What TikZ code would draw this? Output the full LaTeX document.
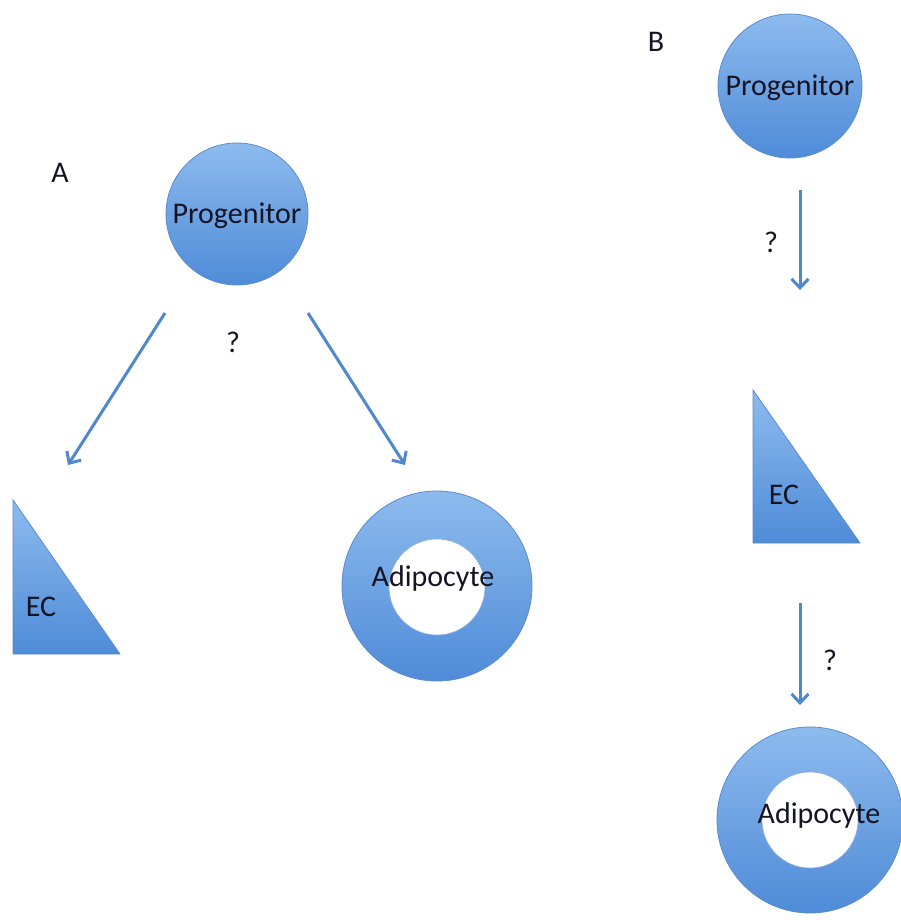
\documentclass[tikz,border=0pt]{standalone}
\usepackage{fontspec}
\setmainfont{Carlito}
\usetikzlibrary{arrows.meta}
\definecolor{cellTop}{HTML}{8DBBEE}
\definecolor{cellBot}{HTML}{4F8BD8}
\definecolor{cellLine}{HTML}{5A8CC8}
\definecolor{arrowCol}{HTML}{5088CC}
\definecolor{txtCol}{HTML}{141424}
\tikzset{
  cellshade/.style={draw=cellLine, line width=0.8pt, top color=cellTop, bottom color=cellBot},
  cell/.style={cellshade, circle, inner sep=0pt},
  hole/.style={circle, fill=white, draw=cellLine!70, line width=0.6pt, inner sep=0pt},
  lbl/.style={font=\fontsize{30}{34}\selectfont, text=txtCol, inner sep=0pt},
  conn/.style={draw=arrowCol, line width=3pt, -{Straight Barb[length=9pt,width=17pt,line width=3pt]}}
}
\begin{document}
\begin{tikzpicture}[x=1pt,y=-1pt]
\useasboundingbox (0,0) rectangle (901,920);
% panel labels
\node[lbl] (labA) at (60,173) {A};
\node[lbl] (labB) at (656,42) {B};
% Panel A
\node[cell, minimum size=142pt] (pA) at (237,214) {};
\node[lbl] (pAt) at (237,216) {Progenitor};
\coordinate (aL1) at (165,313);
\coordinate (aL2) at (68,465);
\coordinate (aR1) at (308,313);
\coordinate (aR2) at (405,465);
\draw[conn] (aL1) -- (aL2);
\draw[conn] (aR1) -- (aR2);
\node[lbl] (qA) at (233,342) {?};
\coordinate (tA1) at (13,500);
\coordinate (tA2) at (13,654);
\coordinate (tA3) at (120,654);
\path[cellshade] (tA1) -- (tA2) -- (tA3) -- cycle;
\node[lbl] (ecA) at (41,607) {EC};
\node[cell, minimum size=190pt] (adA) at (437,586) {};
\node[hole, minimum size=96pt] (adAh) at (437,587) {};
\node[lbl] (adAt) at (433,578) {Adipocyte};
% Panel B
\node[cell, minimum size=144pt] (pB) at (790,86) {};
\node[lbl] (pBt) at (790,88) {Progenitor};
\coordinate (b11) at (800,190);
\coordinate (b12) at (800,290);
\draw[conn] (b11) -- (b12);
\node[lbl] (qB1) at (771,242) {?};
\coordinate (tB1) at (753,390);
\coordinate (tB2) at (753,543);
\coordinate (tB3) at (860,543);
\path[cellshade] (tB1) -- (tB2) -- (tB3) -- cycle;
\node[lbl] (ecB) at (784,495) {EC};
\coordinate (b21) at (800,603);
\coordinate (b22) at (800,705);
\draw[conn] (b21) -- (b22);
\node[lbl] (qB2) at (830,660) {?};
\node[cell, minimum size=186pt] (adB) at (810,820) {};
\node[hole, minimum size=96pt] (adBh) at (810,820) {};
\node[lbl] (adBt) at (819,815) {Adipocyte};
\end{tikzpicture}
\end{document}
